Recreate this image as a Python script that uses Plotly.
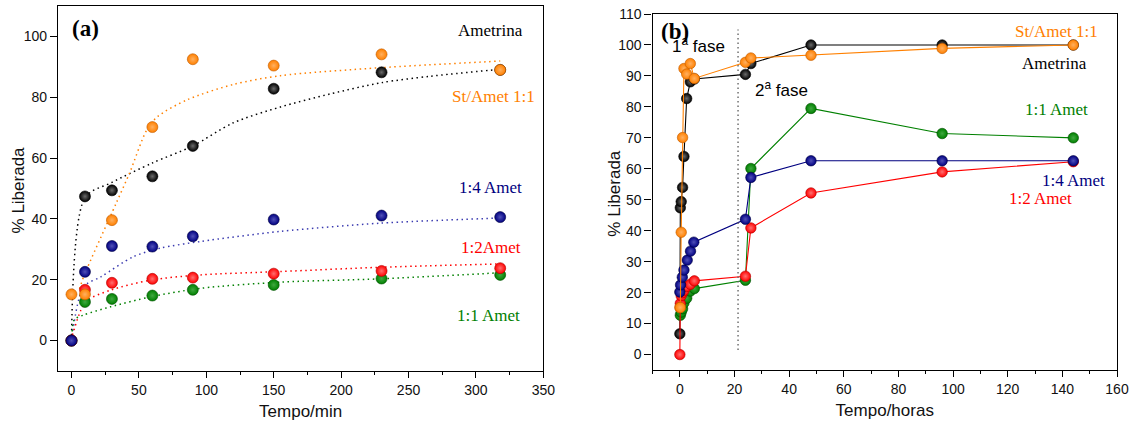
import plotly.graph_objects as go

# ---------------- Panel (a): first 318 min ----------------
t_min = [0, 10, 30, 60, 90, 150, 230, 318]
a_ametrina = [0, 47.4, 49.4, 54.0, 64.0, 82.8, 88.2, 89.0]
a_st_amet = [15.2, 15.2, 39.6, 70.2, 92.5, 90.4, 94.1, 89.0]
a_1_4 = [0, 22.6, 31.1, 30.9, 34.3, 39.8, 41.1, 40.6]
a_1_2 = [0, 16.7, 19.0, 20.3, 20.7, 22.0, 22.9, 23.8]
a_1_1 = [0, 12.7, 13.7, 14.8, 16.7, 18.3, 20.4, 21.6]

# dotted trend curves
fit_ametrina_x = [0, 10, 30, 60, 90, 120, 155, 192, 230, 266, 318]
fit_ametrina_y = [0, 47, 52, 58.4, 64, 71.6, 76.8, 81.1, 84.8, 86.9, 89.2]
fit_st_x = [6, 9, 33, 43, 56, 64, 86, 120, 155, 229, 318]
fit_st_y = [17, 21, 45, 55, 69.4, 73.7, 79.2, 84.2, 87.1, 89.7, 91.9]
fit_1_4_x = [0, 9, 22, 46, 66, 96, 155, 229, 318]
fit_1_4_y = [0, 17.7, 21, 27.6, 30.4, 32.6, 35.9, 38.6, 40.3]
fit_1_2_x = [0.7, 7, 12, 29, 59, 96, 155, 229, 318]
fit_1_2_y = [1.8, 10, 13.3, 16.6, 19.9, 21.6, 22.7, 24.1, 25.2]
fit_1_1_x = [0.5, 2, 9, 29, 59, 96, 155, 229, 318]
fit_1_1_y = [3, 6.8, 8.4, 11.1, 14.4, 17.2, 19.2, 20.3, 22.3]

# ---------------- Panel (b): up to 144 h ----------------
t_h = [0, 0.17, 0.5, 1, 1.5, 2.5, 3.83, 5.3, 24, 26, 48, 96, 144]
b_ametrina = [6.7, 47.4, 49.4, 54.0, 64.0, 82.7, 88.1, 89.0, 90.5, 94.0, 100.0, 100.0, 100.0]
b_st_amet = [15.2, 15.2, 39.5, 70.1, 92.4, 90.6, 94.0, 89.2, 94.4, 95.8, 96.7, 98.9, 100.0]
b_1_2 = [0, 16.5, 19.0, 20.0, 20.7, 22.0, 22.7, 23.8, 25.3, 40.9, 52.2, 59.0, 62.3]
t_h_1_1 = [0.17, 0.5, 1, 1.5, 2.5, 3.83, 5.3, 24, 26, 48, 96, 144]
b_1_1 = [12.7, 13.7, 14.8, 16.7, 18.2, 20.5, 21.3, 24.0, 60.1, 79.5, 71.4, 70.0]
t_h_1_4 = [0, 0.25, 0.9, 1.5, 2.7, 3.9, 5.1, 24, 26, 48, 96, 144]
b_1_4 = [20.2, 22.5, 25.0, 27.3, 30.5, 33.4, 36.3, 43.7, 57.2, 62.6, 62.6, 62.6]
phase_boundary_h = 21.3

BLACK = "#000000"
ORANGE = "#FF8000"
NAVY = "#000080"
RED = "#FF0000"
GREEN = "#008000"
HL = {BLACK: "#6a6a6a", ORANGE: "#FFB060", NAVY: "#5050b8", RED: "#FF7070", GREEN: "#40a840"}
EDGE = {BLACK: "#000000", ORANGE: "#c05a00", NAVY: "#000040", RED: "#b00000", GREEN: "#004d00"}


def ball(color, size=11):
    return dict(size=size, color=color, line=dict(color=EDGE[color], width=0.6),
                gradient=dict(type="radial", color=HL[color]))


fig = go.Figure()

# panel (a) trend curves
for fx, fy, c in [(fit_ametrina_x, fit_ametrina_y, BLACK), (fit_st_x, fit_st_y, ORANGE),
                  (fit_1_4_x, fit_1_4_y, "#3a3ab0"), (fit_1_2_x, fit_1_2_y, RED),
                  (fit_1_1_x, fit_1_1_y, GREEN)]:
    fig.add_trace(go.Scatter(x=fx, y=fy, mode="lines",
                             line=dict(color=c, width=1.5, dash="1.5px,3.5px", shape="spline", smoothing=0.8),
                             xaxis="x", yaxis="y", showlegend=False, hoverinfo="skip"))

# panel (a) points
for vals, c, name in [(a_ametrina, BLACK, "Ametrina"), (a_1_1, GREEN, "1:1 Amet"), (a_1_2, RED, "1:2 Amet"),
                      (a_st_amet, ORANGE, "St/Amet 1:1"), (a_1_4, NAVY, "1:4 Amet")]:
    fig.add_trace(go.Scatter(x=t_min, y=vals, mode="markers", marker=ball(c), name=name,
                             xaxis="x", yaxis="y", showlegend=False))

# panel (b) lines + points
for tt, vals, c, name in [(t_h, b_ametrina, BLACK, "Ametrina"), (t_h_1_1, b_1_1, GREEN, "1:1 Amet"),
                          (t_h, b_1_2, RED, "1:2 Amet"), (t_h_1_4, b_1_4, NAVY, "1:4 Amet"),
                          (t_h, b_st_amet, ORANGE, "St/Amet 1:1")]:
    fig.add_trace(go.Scatter(x=tt, y=vals, mode="lines+markers", line=dict(color=c, width=1.1),
                             marker=ball(c, 10.5), name=name, xaxis="x2", yaxis="y2", showlegend=False))

fig.add_shape(type="line", xref="x2", yref="y2", x0=phase_boundary_h, x1=phase_boundary_h, y0=1.5, y1=105,
              line=dict(color="#666666", width=1.4, dash="1.5px,3px"))

axis_common = dict(showline=True, linecolor="black", linewidth=1.4, mirror=True, showgrid=False, zeroline=False,
                   ticks="outside", tickcolor="black", tickwidth=1.2, automargin=False,
                   tickfont=dict(family="Liberation Sans, Arial", size=14, color="#111111"))
title_font = dict(family="Liberation Sans, Arial", size=17, color="#111111")

fig.update_layout(
    width=1134, height=421,
    margin=dict(l=58, r=17, t=6, b=50, autoexpand=False),
    paper_bgcolor="white", plot_bgcolor="white",
    xaxis=dict(domain=[0, 0.4583], range=[-10, 350], tick0=0, dtick=50, ticklen=6,
               minor=dict(dtick=25, ticks="outside", ticklen=3, tickcolor="black"),
               title=dict(text="Tempo/min", font=title_font, standoff=8), anchor="y", **axis_common),
    yaxis=dict(domain=[0, 1], range=[-10, 110], tick0=0, dtick=20, ticklen=7, anchor="x", **axis_common),
    xaxis2=dict(domain=[0.5614, 1], range=[-10, 160], tick0=0, dtick=20, ticklen=6,
                minor=dict(dtick=10, ticks="outside", ticklen=3, tickcolor="black"),
                title=dict(text="Tempo/horas", font=title_font, standoff=8), anchor="y2", **axis_common),
    yaxis2=dict(domain=[0.0027, 0.978], range=[-5, 110], tick0=0, dtick=10, ticklen=7, anchor="x2", **axis_common),
)

# y-axis titles (placed where the reference has them)
for px, py in [(-0.0373, 0.496), (0.5258, 0.488)]:
    fig.add_annotation(xref="paper", yref="paper", x=px, y=py, text="% Liberada", textangle=-90,
                       showarrow=False, font=title_font, xanchor="center", yanchor="middle")

serif = "Liberation Serif, Times New Roman"
notes = [
    ("x", "y", 10.6, 102.6, "<b>(a)</b>", BLACK, 23, serif),
    ("x", "y", 311, 102, "Ametrina", BLACK, 17, serif),
    ("x", "y", 313, 80.2, "St/Amet 1:1", ORANGE, 17, serif),
    ("x", "y", 310.6, 50.2, "1:4 Amet", NAVY, 17, serif),
    ("x", "y", 311.4, 30.5, "1:2Amet", RED, 17, serif),
    ("x", "y", 309.4, 8.4, "1:1 Amet", GREEN, 17, serif),
    ("x2", "y2", -1.9, 104.5, "<b>(b)</b>", BLACK, 23, serif),
    ("x2", "y2", 6.8, 100, "1<sup>a</sup> fase", BLACK, 17, "Liberation Sans, Arial"),
    ("x2", "y2", 37.1, 85.8, "2<sup>a</sup> fase", BLACK, 17, "Liberation Sans, Arial"),
    ("x2", "y2", 138, 104.2, "St/Amet 1:1", ORANGE, 17, serif),
    ("x2", "y2", 137.2, 94.1, "Ametrina", BLACK, 17, serif),
    ("x2", "y2", 138, 79.3, "1:1 Amet", GREEN, 17, serif),
    ("x2", "y2", 144.2, 56.3, "1:4 Amet", NAVY, 17, serif),
    ("x2", "y2", 132.1, 50.5, "1:2 Amet", RED, 17, serif),
]
for xr, yr, x, y, txt, c, s, fam in notes:
    fig.add_annotation(xref=xr, yref=yr, x=x, y=y, text=txt, showarrow=False,
                       font=dict(color=c, size=s, family=fam), xanchor="center", yanchor="middle")

fig.write_html("out.html", config={"displayModeBar": False},
               post_script="document.body.style.margin='0px';document.body.style.overflow='hidden';")
